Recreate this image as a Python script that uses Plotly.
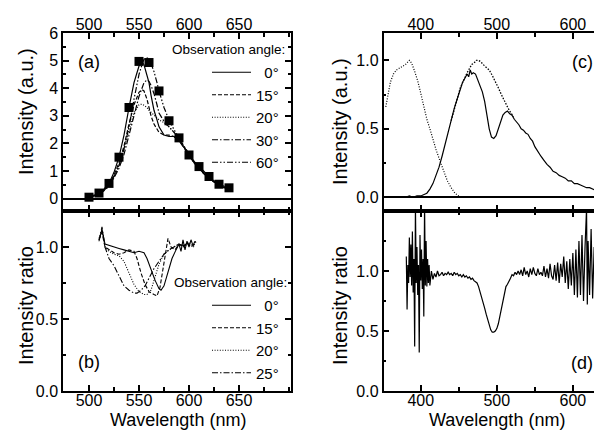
import plotly.graph_objects as go

# (a) emission spectra for several observation angles
wl_a = [500, 505, 510, 515, 520, 525, 530, 535, 540, 545, 550, 553, 555, 558, 560, 562, 565, 568, 570,
        575, 580, 585, 590, 595, 600, 605, 610, 615, 620, 625, 630, 635, 640]
int_0 = [0.05, 0.1, 0.2, 0.35, 0.55, 0.95, 1.5, 2.3, 3.3, 4.2, 4.8, 4.95, 4.85, 4.5, 4.2, 3.75, 3.2, 2.85, 2.6,
         2.3, 2.25, 2.25, 2.1, 1.85, 1.55, 1.3, 1.1, 0.9, 0.75, 0.6, 0.5, 0.4, 0.35]
int_15 = [0.05, 0.1, 0.18, 0.3, 0.5, 0.85, 1.3, 1.9, 2.7, 3.4, 3.85, 3.95, 3.9, 3.6, 3.3, 3.0, 2.7, 2.5, 2.4,
          2.3, 2.3, 2.25, 2.1, 1.85, 1.55, 1.3, 1.1, 0.9, 0.75, 0.6, 0.5, 0.4, 0.35]
int_20 = [0.05, 0.1, 0.18, 0.3, 0.5, 0.8, 1.2, 1.8, 2.5, 3.1, 3.4, 3.42, 3.38, 3.3, 3.2, 3.12, 3.0, 2.92, 2.85,
          2.75, 2.6, 2.4, 2.15, 1.85, 1.55, 1.3, 1.1, 0.9, 0.75, 0.6, 0.5, 0.4, 0.33]
int_30 = [0.05, 0.1, 0.17, 0.28, 0.45, 0.75, 1.1, 1.6, 2.3, 3.0, 3.7, 4.0, 4.2, 4.3, 4.25, 4.1, 3.8, 3.4, 3.1,
          2.8, 2.6, 2.4, 2.2, 1.9, 1.6, 1.35, 1.12, 0.93, 0.78, 0.62, 0.5, 0.42, 0.35]
int_60 = [0.05, 0.12, 0.2, 0.32, 0.5, 0.8, 1.2, 1.8, 2.6, 3.6, 4.5, 4.85, 5.05, 5.1, 5.05, 4.9, 4.6, 4.2, 3.9,
          3.3, 2.85, 2.5, 2.2, 1.9, 1.58, 1.35, 1.16, 0.97, 0.8, 0.65, 0.52, 0.45, 0.39]
wl_sq = [500, 510, 520, 530, 540, 550, 560, 570, 580, 590, 600, 610, 620, 630, 640]
int_sq = [0.05, 0.2, 0.55, 1.5, 3.3, 4.97, 4.93, 3.9, 2.82, 2.2, 1.58, 1.16, 0.8, 0.52, 0.39]

# (b) intensity ratio for several observation angles
wl_b0 = [510, 513, 516, 520, 525, 530, 535, 540, 545, 550, 555, 558, 562, 566, 570, 572, 575, 579, 583,
         587, 590, 592, 594, 596, 598, 600, 602, 604, 606, 607]
rat_0 = [1.05, 1.12, 1.02, 1.01, 1.0, 0.99, 0.98, 0.97, 0.96, 0.97, 0.96, 0.92, 0.84, 0.77, 0.71, 0.7, 0.73,
         0.82, 0.92, 0.98, 1.02, 0.97, 1.05, 0.98, 1.04, 1.0, 1.05, 1.01, 1.04, 1.03]
wl_b15 = [510, 513, 516, 520, 525, 530, 535, 540, 545, 548, 552, 556, 560, 565, 568, 571, 574, 577, 579,
          582, 586, 590, 594, 598, 602, 606]
rat_15 = [1.05, 1.1, 1.0, 0.98, 0.96, 0.95, 0.96, 0.98, 0.97, 0.92, 0.82, 0.74, 0.69, 0.67, 0.66, 0.72, 0.85,
          0.98, 1.06, 1.0, 0.98, 1.02, 1.0, 1.03, 1.0, 1.02]
wl_b20 = [510, 513, 516, 520, 525, 530, 535, 540, 545, 550, 555, 558, 562, 566, 570, 575, 580, 585, 590,
          595, 600, 605]
rat_20 = [1.06, 1.12, 1.0, 0.97, 0.95, 0.94, 0.9, 0.82, 0.74, 0.69, 0.67, 0.67, 0.7, 0.79, 0.88, 0.95, 0.98,
          1.0, 1.02, 1.0, 1.03, 1.0]
wl_b25 = [510, 513, 516, 520, 525, 530, 535, 540, 545, 548, 552, 556, 560, 565, 570, 575, 580, 585, 590,
          595, 600]
rat_25 = [1.04, 1.14, 1.0, 0.92, 0.87, 0.8, 0.73, 0.7, 0.68, 0.68, 0.7, 0.73, 0.78, 0.85, 0.9, 0.95, 0.98,
          1.0, 1.02, 1.01, 1.03]

# (c) normalised spectra
wl_exc = [354, 357, 360, 364, 368, 374, 380, 385, 388, 392, 396, 400, 404, 408, 412, 416, 420, 425, 430,
          435, 440, 445, 450]
int_exc = [0.66, 0.75, 0.84, 0.9, 0.93, 0.95, 0.97, 1.0, 0.98, 0.92, 0.85, 0.76, 0.66, 0.57, 0.5, 0.42,
           0.35, 0.27, 0.19, 0.12, 0.07, 0.03, 0.01]
wl_em = [380, 385, 390, 395, 400, 405, 408, 412, 416, 420, 424, 428, 432, 436, 440, 444, 448, 452, 455,
         458, 461, 463, 465, 467, 469, 472, 475, 478, 481, 484, 487, 490, 493, 496, 499, 502, 505, 508,
         511, 514, 517, 520, 523, 526, 529, 532, 535, 538, 541, 544, 547, 550, 554, 558, 562, 566, 570,
         574, 578, 582, 586, 590, 594, 598, 602, 606, 610, 614, 618, 622, 626, 630, 634, 638, 640]
int_em = [0.0, 0.01, 0.0, 0.01, 0.01, 0.02, 0.03, 0.06, 0.1, 0.16, 0.22, 0.3, 0.39, 0.48, 0.56, 0.65,
          0.72, 0.8, 0.84, 0.87, 0.9, 0.88, 0.93, 0.9, 0.91, 0.9, 0.86, 0.82, 0.77, 0.7, 0.6, 0.5, 0.44,
          0.43, 0.45, 0.5, 0.56, 0.6, 0.62, 0.63, 0.61, 0.6, 0.57, 0.55, 0.53, 0.5, 0.49, 0.47, 0.46, 0.43,
          0.41, 0.37, 0.33, 0.3, 0.27, 0.24, 0.22, 0.19, 0.18, 0.16, 0.15, 0.14, 0.12, 0.12, 0.1, 0.1,
          0.09, 0.08, 0.07, 0.07, 0.06, 0.05, 0.05, 0.04, 0.04]
wl_ref = [440, 444, 448, 452, 455, 458, 461, 464, 467, 470, 473, 476, 479, 482, 486, 490, 494, 498, 502,
          506, 510, 514, 518, 522]
int_ref = [0.56, 0.65, 0.72, 0.8, 0.84, 0.88, 0.91, 0.94, 0.97, 0.98, 1.0, 1.0, 0.99, 0.97, 0.95, 0.93,
           0.89, 0.85, 0.8, 0.75, 0.7, 0.66, 0.62, 0.59]

# (d) intensity ratio
wl_d = [381, 382, 383, 384, 385, 386, 387, 388, 389, 390, 391, 392, 393, 394, 395, 396, 397, 398, 399,
        400, 401, 402, 403, 404, 405, 406, 407, 408, 409, 410, 411, 412, 414, 416, 418, 420, 422, 424,
        426, 428, 430, 432, 434, 436, 438, 440, 442, 444, 446, 448, 450, 452, 454, 456, 458, 460, 462,
        464, 466, 468, 470, 472, 474, 476, 478, 480, 482, 484, 486, 488, 490, 492, 494, 496, 498, 500,
        502, 504, 506, 508, 510, 512, 514, 516, 518, 520, 522, 524, 526, 528, 530, 532, 534, 536, 538,
        540, 542, 544, 546, 548, 550, 552, 554, 556, 558, 560, 562, 564, 566, 568, 570, 572, 574, 576,
        578, 580, 582, 584, 586, 588, 590, 592, 594, 596, 598, 600, 602, 604, 606, 608, 610, 612, 614,
        616, 618, 619, 620, 622, 624, 626, 628, 630, 632, 634, 636, 638, 640]
rat_d = [1.12, 0.68, 1.05, 0.9, 1.28, 0.95, 1.22, 0.88, 1.33, 0.82, 1.1, 0.37, 1.55, 0.9, 1.2, 0.8, 1.05,
         0.32, 1.3, 0.92, 1.18, 0.85, 1.1, 0.62, 1.55, 0.88, 1.25, 0.87, 1.1, 0.9, 1.05, 0.88, 1.0, 0.93,
         0.98, 0.95, 1.0, 0.96, 0.97, 0.99, 0.96, 0.98, 0.97, 0.99, 0.97, 0.98, 0.96, 0.99, 0.97, 0.98,
         0.96, 0.97, 0.95, 0.97, 0.95, 0.96, 0.94, 0.95, 0.93, 0.94, 0.92, 0.91, 0.9, 0.87, 0.83, 0.79,
         0.74, 0.69, 0.64, 0.59, 0.55, 0.51, 0.49, 0.49, 0.5, 0.52, 0.56, 0.62, 0.68, 0.75, 0.82, 0.87,
         0.89, 0.91, 0.94, 0.97, 0.96, 0.99, 0.97, 1.0, 0.97, 1.01, 0.96, 1.03, 0.97, 1.0, 0.95, 1.02,
         0.97, 1.03, 0.98, 0.96, 1.02, 0.97, 0.99, 0.96, 1.04, 0.95, 1.02, 0.94, 1.06, 0.96, 0.93, 1.05,
         0.92, 1.07, 0.9, 1.06, 0.95, 1.12, 0.9, 1.08, 0.85, 1.1, 0.88, 1.15, 0.8, 1.18, 0.78, 1.25, 0.8,
         1.3, 0.75, 1.2, 1.52, 0.72, 1.25, 0.8, 1.35, 0.77, 1.2, 0.82, 1.28, 0.8, 1.15, 0.85, 1.1]

FONT = "Arial, Liberation Sans, sans-serif"
W, H, OFF = 602, 436, 8   # page body margin shifts the figure by 8 px


def fx(px):
    return (px - OFF) / W


def fy(py):
    return 1 - (py - OFF) / H


dash_15 = "4px,2px"
dash_20 = "1px,1.6px"
dash_30 = "6px,2px,1.5px,2px"
dash_60 = "6px,2px,1.5px,2px,1.5px,2px"

fig = go.Figure()

# panel (a)
for name, y, dash in [("\u00a0\u00a00°", int_0, "solid"), ("15°", int_15, dash_15),
                      ("20°", int_20, dash_20), ("30°", int_30, dash_30), ("60°", int_60, dash_60)]:
    fig.add_trace(go.Scatter(x=wl_a, y=y, mode="lines", name=name, legendgroup="a" + name,
                             line=dict(color="black", width=1.2, dash=dash),
                             xaxis="x", yaxis="y", legend="legend"))
fig.add_trace(go.Scatter(x=wl_sq, y=int_sq, mode="markers", showlegend=False,
                         marker=dict(symbol="square", size=9, color="black"), xaxis="x", yaxis="y"))

# panel (b)
for name, x, y, dash in [("\u00a0\u00a00°", wl_b0, rat_0, "solid"), ("15°", wl_b15, rat_15, dash_15),
                         ("20°", wl_b20, rat_20, dash_20), ("25°", wl_b25, rat_25, dash_30)]:
    fig.add_trace(go.Scatter(x=x, y=y, mode="lines", name=name, legendgroup="b" + name,
                             line=dict(color="black", width=1.1, dash=dash),
                             xaxis="x2", yaxis="y2", legend="legend2"))

# panel (c)
fig.add_trace(go.Scatter(x=wl_exc, y=int_exc, mode="lines", showlegend=False,
                         line=dict(color="black", width=1.2, dash=dash_20), xaxis="x3", yaxis="y3"))
fig.add_trace(go.Scatter(x=wl_ref, y=int_ref, mode="lines", showlegend=False,
                         line=dict(color="black", width=1.3, dash="1.5px,1.5px"), xaxis="x3", yaxis="y3"))
fig.add_trace(go.Scatter(x=wl_em, y=int_em, mode="lines", showlegend=False,
                         line=dict(color="black", width=1.2), xaxis="x3", yaxis="y3"))

# panel (d)
fig.add_trace(go.Scatter(x=wl_d, y=rat_d, mode="lines", showlegend=False,
                         line=dict(color="black", width=1.2), xaxis="x4", yaxis="y4"))


def ax(**kw):
    base = dict(showline=True, linecolor="black", linewidth=1.5, mirror="ticks", ticks="inside",
                ticklen=6, tickwidth=1.5, tickcolor="black", showgrid=False, zeroline=False,
                automargin=False, tickfont=dict(size=16, family=FONT, color="black"))
    base.update(kw)
    return base


left = [fx(63), fx(291)]
right = [fx(383.5), fx(601)]
top = [fy(211), fy(33)]
bot = [fy(391), fy(211)]
xminor = dict(ticks="inside", ticklen=4, tickwidth=1.5)
yminor = dict(ticks="inside", ticklen=3, tickwidth=1.5)

fig.update_layout(
    width=W, height=H, margin=dict(l=0, r=0, t=0, b=0, autoexpand=False),
    paper_bgcolor="white", plot_bgcolor="white",
    font=dict(family=FONT, color="black"),
    xaxis=ax(domain=left, range=[474, 702], side="top", anchor="y", tickvals=[500, 550, 600, 650],
             minor=dict(xminor, dtick=25), ticklabelstandoff=-5),
    yaxis=ax(domain=top, range=[-0.45, 6], anchor="x", dtick=1,
             zeroline=True, zerolinecolor="black", zerolinewidth=2, minor=dict(yminor, dtick=0.5)),
    xaxis2=ax(domain=left, range=[474, 702], anchor="y2", tickvals=[500, 550, 600, 650],
              minor=dict(xminor, dtick=25), ticklabelstandoff=-6),
    yaxis2=ax(domain=bot, range=[0, 1.25], anchor="x2", tickvals=[0, 0.5, 1.0], tickformat=".1f",
              minor=dict(yminor, dtick=0.25)),
    xaxis3=ax(domain=right, range=[351, 637], side="top", anchor="y3", tickvals=[400, 500, 600],
              minor=dict(xminor, dtick=50), ticklabelstandoff=-5),
    yaxis3=ax(domain=top, range=[-0.1, 1.2], anchor="x3", tickvals=[0, 0.5, 1.0], tickformat=".1f",
              zeroline=True, zerolinecolor="black", zerolinewidth=2, minor=dict(yminor, dtick=0.25)),
    xaxis4=ax(domain=right, range=[351, 637], anchor="y4", tickvals=[400, 500, 600],
              minor=dict(xminor, dtick=50), ticklabelstandoff=-6),
    yaxis4=ax(domain=bot, range=[0, 1.5], anchor="x4", tickvals=[0, 0.5, 1.0], tickformat=".1f",
              minor=dict(yminor, dtick=0.25)),
    legend=dict(x=fx(207), y=fy(56), xanchor="left", yanchor="top", itemwidth=39,
                bgcolor="rgba(0,0,0,0)", tracegroupgap=0, font=dict(size=15, family=FONT)),
    legend2=dict(x=fx(207), y=fy(289), xanchor="left", yanchor="top", itemwidth=39,
                 bgcolor="rgba(0,0,0,0)", tracegroupgap=0, font=dict(size=15, family=FONT)),
)


def label(text, px, py, size, angle=0, xanchor="center"):
    fig.add_annotation(text=text, x=fx(px), y=fy(py), xref="paper", yref="paper", showarrow=False,
                       xanchor=xanchor, yanchor="middle", textangle=angle,
                       font=dict(size=size, family=FONT, color="black"))


# axis titles
label("Wavelength (nm)", 178, 420, 18)
label("Wavelength (nm)", 497, 420, 18)
label("Intensity (a.u.)", 26, 112, 20, -90)
label("Intensity ratio", 26, 306, 20, -90)
label("Intensity (a.u.)", 340, 121, 20, -90)
label("Intensity ratio", 340, 305, 20, -90)

# panel labels and legend headings
label("(a)", 89, 62, 18)
label("(b)", 89, 362, 18)
label("(c)", 582, 62, 18)
label("(d)", 582, 363, 18)
label("Observation angle:", 170, 50, 13.5, xanchor="left")
label("Observation angle:", 172, 282, 13.5, xanchor="left")

fig.write_html("out.html")
